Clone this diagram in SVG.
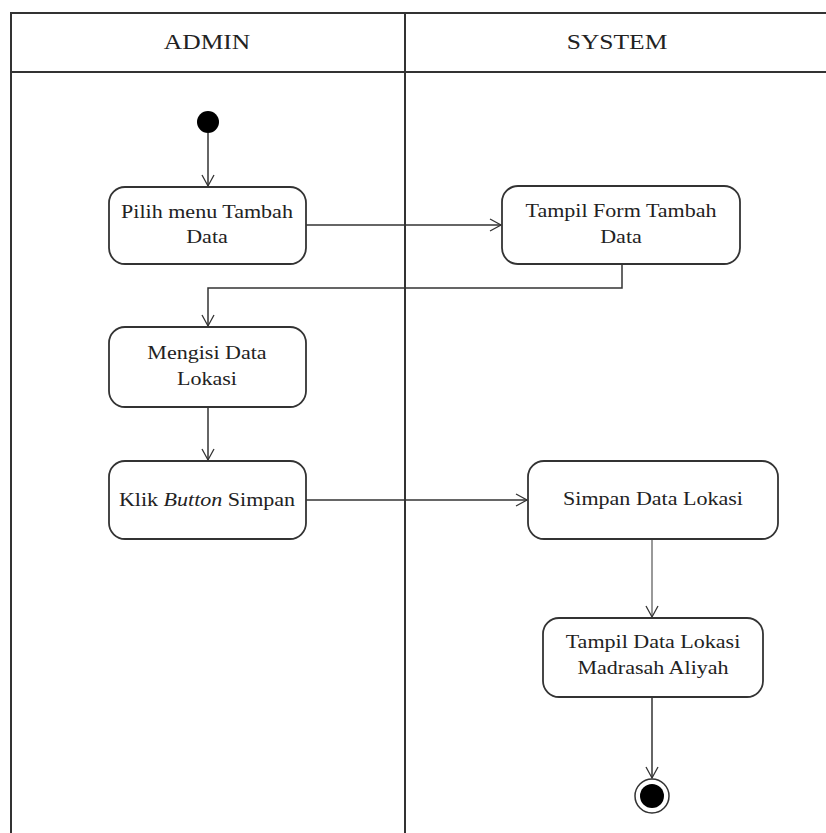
<svg xmlns="http://www.w3.org/2000/svg" width="826" height="833" viewBox="0 0 826 833">
<defs>
<marker id="arr" markerWidth="14" markerHeight="14" refX="12" refY="7" orient="auto" markerUnits="userSpaceOnUse">
<path d="M1,1 L12,7 L1,13" fill="none" stroke="#333" stroke-width="1.3"/>
</marker>
</defs>
<style>
.lane{fill:none;stroke:#333;stroke-width:2}
.box{fill:#fff;stroke:#333;stroke-width:1.8}
.t{font-family:"Liberation Serif","Times New Roman",serif;font-size:19px;fill:#222;text-anchor:middle}
.h{font-family:"Liberation Serif","Times New Roman",serif;font-size:22px;fill:#222;text-anchor:middle}
.c{fill:none;stroke:#333;stroke-width:1.5;marker-end:url(#arr)}
</style>
<rect width="826" height="833" fill="#fff"/>
<g id="lanes">
<path class="lane" d="M11,835 V13 H828 M11,72 H828 M405,13 V835"/>
<text class="h" transform="translate(207,49) scale(1.16,1)">ADMIN</text>
<text class="h" transform="translate(617,49) scale(1.16,1)">SYSTEM</text>
</g>
<g id="connectors">
<path class="c" d="M208,133 V186"/>
<path class="c" d="M306,225 H501"/>
<path class="c" d="M622,264 V288 H208 V326"/>
<path class="c" d="M208,407 V460"/>
<path class="c" d="M306,500 H527"/>
<path class="c" d="M652,539 V617" style="stroke:#777"/>
<path class="c" d="M652,697 V778"/>
</g>
<g id="start"><circle cx="208" cy="122" r="11" fill="#000"/></g>
<g id="n1"><rect class="box" x="109" y="187" width="197" height="77" rx="16"/>
<text class="t" transform="translate(207,218) scale(1.16,1)">Pilih menu Tambah</text><text class="t" transform="translate(207,243) scale(1.16,1)">Data</text></g>
<g id="n2"><rect class="box" x="502" y="186" width="238" height="78" rx="16"/>
<text class="t" transform="translate(621,217) scale(1.16,1)">Tampil Form Tambah</text><text class="t" transform="translate(621,243) scale(1.16,1)">Data</text></g>
<g id="n3"><rect class="box" x="109" y="327" width="197" height="80" rx="16"/>
<text class="t" transform="translate(207,359) scale(1.16,1)">Mengisi Data</text><text class="t" transform="translate(207,385) scale(1.16,1)">Lokasi</text></g>
<g id="n4"><rect class="box" x="109" y="461" width="197" height="78" rx="16"/>
<text class="t" transform="translate(207,506) scale(1.16,1)">Klik <tspan font-style="italic">Button</tspan> Simpan</text></g>
<g id="n5"><rect class="box" x="528" y="461" width="250" height="78" rx="16"/>
<text class="t" transform="translate(653,505) scale(1.16,1)">Simpan Data Lokasi</text></g>
<g id="n6"><rect class="box" x="543" y="618" width="220" height="79" rx="16"/>
<text class="t" transform="translate(653,648) scale(1.16,1)">Tampil Data Lokasi</text><text class="t" transform="translate(653,674) scale(1.16,1)">Madrasah Aliyah</text></g>
<g id="end"><circle cx="652" cy="796" r="17" fill="#fff" stroke="#333" stroke-width="1.5"/><circle cx="652" cy="796" r="12" fill="#000"/></g>
</svg>
